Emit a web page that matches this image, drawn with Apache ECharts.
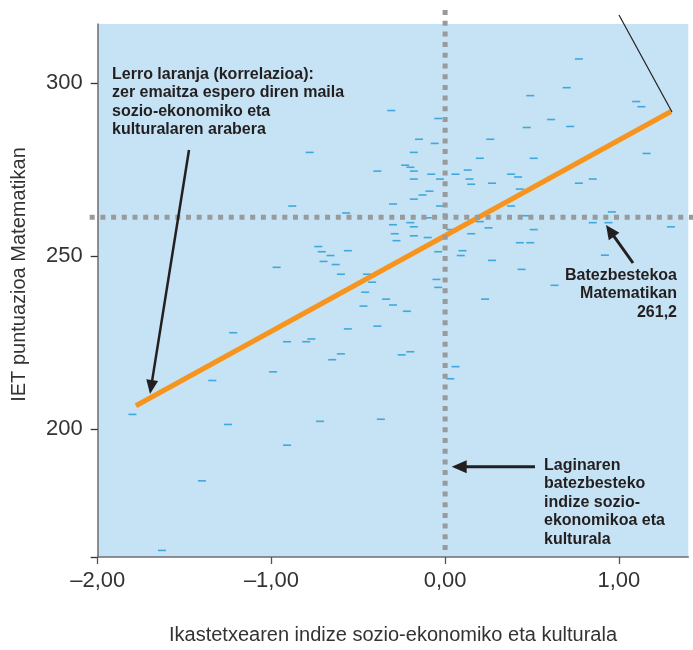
<!DOCTYPE html>
<html><head><meta charset="utf-8">
<script src="https://cdn.jsdelivr.net/npm/echarts@6/dist/echarts.min.js"></script>
<style>html,body{margin:0;padding:0;background:#fff}#c{width:693px;height:650px}</style>
</head><body><div id="c"></div>
<script>
// ---- data ----
const schoolIndex = [-1.80,-1.63,-1.40,-1.34,-1.25,-1.22,-0.99,-0.91,-0.91,-0.97,-0.88,-0.80,-0.77,-0.78,-0.73,-0.72,-0.71,-0.70,-0.66,-0.65,-0.63,-0.60,-0.60,-0.57,-0.56,-0.56,-0.47,-0.46,-0.45,-0.42,-0.39,-0.39,-0.37,-0.34,-0.31,-0.30,-0.30,-0.30,-0.29,-0.28,-0.25,-0.23,-0.22,-0.20,-0.20,-0.20,-0.18,-0.18,-0.18,-0.18,-0.18,-0.18,-0.15,-0.13,-0.10,-0.10,-0.09,-0.08,-0.06,-0.05,-0.04,-0.04,-0.04,-0.03,-0.03,0.03,0.03,0.06,0.06,0.09,0.10,0.13,0.14,0.15,0.15,0.20,0.20,0.23,0.25,0.26,0.27,0.27,0.38,0.38,0.42,0.43,0.43,0.44,0.46,0.47,0.49,0.49,0.51,0.51,0.61,0.63,0.70,0.72,0.77,0.77,0.85,0.85,0.92,0.94,0.96,1.10,1.13,1.16,1.30];
const schoolScore = [204.2,164.9,185.0,214.0,201.3,227.8,216.5,225.2,195.3,246.7,264.4,225.2,226.0,279.9,252.7,202.2,251.2,248.4,250.1,220.0,247.5,244.7,221.7,262.4,251.5,228.9,235.5,239.5,244.7,242.4,274.5,229.7,202.8,237.5,292.0,265.0,259.0,235.8,256.4,254.4,221.4,276.2,234.0,275.6,259.6,222.3,279.9,274.5,272.2,266.4,258.4,255.8,283.7,267.6,261.0,255.3,268.7,273.6,282.5,243.2,251.2,240.9,289.7,272.2,264.4,257.6,214.5,273.6,218.0,250.1,251.5,274.8,272.2,270.7,256.4,278.2,259.9,237.5,258.1,283.7,271.0,248.7,273.6,264.4,272.8,253.8,269.3,246.1,261.6,287.1,296.3,253.8,278.2,257.6,289.4,241.5,298.6,287.4,306.9,271.0,272.2,259.6,250.2,259.6,262.7,294.6,293.1,279.6,258.4];
const trendX = [-1.78, 1.30];
const trendY = [206.7, 291.7];
const meanScore = 261.2;
const meanIndex = 0;
const xTicks = [-2, -1, 0, 1];
const yTicks = [200, 250, 300];
const yMin = 163, yMax = 317, xMin = -2, xMax = 1.4;

const FONT = "'Liberation Sans Narrow','Liberation Sans',sans-serif";
const DARK = '#231f20';
const fmtX = v => (v < 0 ? '\u2013' : '') + Math.abs(v).toFixed(2).replace('.', ',');

const chart = echarts.init(document.getElementById('c'), null, {renderer: 'canvas'});
const points = schoolIndex.map((x, i) => [x, schoolScore[i]]);
const trend = trendX.map((x, i) => [x, trendY[i]]);

chart.setOption({
  animation: false,
  grid: {left: 97.7, right: 4.7, top: 24, bottom: 89.3, show: true, backgroundColor: '#c5e3f4', borderWidth: 0},
  xAxis: {
    type: 'value', min: xMin, max: xMax,
    name: 'Ikastetxearen indize sozio-ekonomiko eta kulturala', nameLocation: 'middle', nameGap: 68,
    nameTextStyle: {fontFamily: FONT, fontSize: 20, color: '#333'},
    axisLine: {show: true, onZero: false, lineStyle: {color: '#6d6e70', width: 1.5}},
    axisTick: {show: true, length: 7, customValues: xTicks, lineStyle: {color: '#555', width: 1.3}},
    axisLabel: {customValues: xTicks, formatter: fmtX, margin: 13, fontFamily: FONT, fontSize: 22, color: '#333'},
    splitLine: {show: false}
  },
  yAxis: {
    type: 'value', min: yMin, max: yMax,
    name: 'IET puntuazioa Matematikan', nameLocation: 'middle', nameGap: 68,
    nameTextStyle: {fontFamily: FONT, fontSize: 20, color: '#333', padding: [0, 0, 0, 32]},
    axisLine: {show: true, onZero: false, lineStyle: {color: '#6d6e70', width: 1.5}},
    axisTick: {show: true, length: 7, customValues: [yMin].concat(yTicks), lineStyle: {color: '#333', width: 1.3}},
    axisLabel: {customValues: yTicks, margin: 15, fontFamily: FONT, fontSize: 22, color: '#333'},
    splitLine: {show: false}
  },
  series: [
    {type: 'scatter', data: points, symbol: 'rect', symbolSize: [8, 1.6], itemStyle: {color: '#1e9ad6'}, z: 2},
    {type: 'line', data: trend, showSymbol: false, symbol: 'none', lineStyle: {color: '#f7941d', width: 5}, z: 5}
  ]
});

function px(x, y) { return chart.convertToPixel({gridIndex: 0}, [x, y]); }
const pTopLeft = px(xMin, yMax), pBotRight = px(xMax, yMin);
const pMeanX = px(meanIndex, meanScore);

function arrow(x1, y1, x2, y2, w, head, hw) {
  const dx = x2 - x1, dy = y2 - y1, L = Math.hypot(dx, dy), ux = dx / L, uy = dy / L;
  const bx = x2 - ux * head, by = y2 - uy * head;
  return [
    {type: 'line', shape: {x1, y1, x2: bx + ux * 2, y2: by + uy * 2}, style: {stroke: DARK, lineWidth: w}, z: 20},
    {type: 'polygon', shape: {points: [[x2, y2], [bx - uy * hw, by + ux * hw], [bx + uy * hw, by - ux * hw]]}, style: {fill: DARK}, z: 20}
  ];
}
const txt = (x, y, text, align) => ({type: 'text', x, y, z: 20, style: {text, fill: DARK, font: "bold 16px " + FONT, lineHeight: 18.5, align: align || 'left', verticalAlign: 'top'}});

chart.setOption({
  graphic: [
    {type: 'line', shape: {x1: pMeanX[0], y1: 10, x2: pMeanX[0], y2: pBotRight[1] - 5}, style: {stroke: '#999a9c', lineWidth: 5, lineDash: [5, 5.7]}, z: 10},
    {type: 'line', shape: {x1: pTopLeft[0] - 8, y1: pMeanX[1], x2: 693, y2: pMeanX[1]}, style: {stroke: '#999a9c', lineWidth: 5, lineDash: [5, 5.7]}, z: 10},
    txt(112, 65, 'Lerro laranja (korrelazioa):\nzer emaitza espero diren maila\nsozio-ekonomiko eta\nkulturalaren arabera'),
    ...arrow(189, 150, 150, 394, 2.5, 14, 6),
    {type: 'line', shape: {x1: 619, y1: 15, x2: 672, y2: 112}, style: {stroke: DARK, lineWidth: 1.2}, z: 20},
    txt(677, 266, 'Batezbestekoa\nMatematikan\n261,2', 'right'),
    ...arrow(633, 263, 606, 225, 3, 14, 6.5),
    txt(544, 456, 'Laginaren\nbatezbesteko\nindize sozio-\nekonomikoa eta\nkulturala'),
    ...arrow(535, 466.7, 451.7, 466.7, 3, 15, 6.5)
  ]
});
</script></body></html>
